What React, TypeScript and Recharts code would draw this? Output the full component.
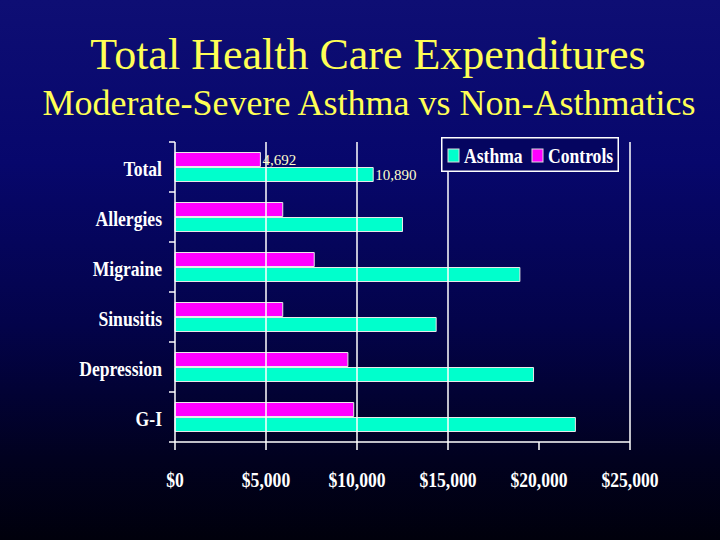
import React from 'react';
import { BarChart, Bar, XAxis, YAxis, Legend, LabelList, ReferenceLine } from 'recharts';

const categories = ['Total', 'Allergies', 'Migraine', 'Sinusitis', 'Depression', 'G-I'];
const asthmaCosts = [10890, 12500, 18950, 14350, 19700, 22000];
const controlCosts = [4692, 5920, 7650, 5920, 9500, 9820];
const xTicks = [0, 5000, 10000, 15000, 20000, 25000];
const gridValues = [5000, 10000, 15000, 25000];
const labeledCategories = ['Total'];
const legendOrder = ['Asthma', 'Controls'];

const data = categories.map((name, i) => ({
  name,
  asthma: asthmaCosts[i],
  controls: controlCosts[i],
}));

const W = 720;
const H = 540;
const MARGIN = { top: 142, right: 90, bottom: 0, left: 0 };
const Y_AXIS_W = 175;
const X_AXIS_H = 98;
const BAND = (H - MARGIN.top - MARGIN.bottom - X_AXIS_H) / categories.length;

const serif = '"Liberation Serif", "Times New Roman", serif';
const SQUEEZE = 'scale(0.8,1)';

const fmtMoney = (v: number) => '$' + v.toLocaleString('en-US');

function YTick(props: any) {
  const { x, y, payload, index, tickSize = 6, tickMargin = 7 } = props;
  const axisX = x + tickMargin + tickSize;
  const last = index === categories.length - 1;
  return (
    <g>
      <line x1={axisX - 6} x2={axisX} y1={y - BAND / 2} y2={y - BAND / 2} stroke="#ffffff" strokeWidth={1.5} />
      {last && (
        <line x1={axisX - 6} x2={axisX} y1={y + BAND / 2} y2={y + BAND / 2} stroke="#ffffff" strokeWidth={1.5} />
      )}
      <text
        transform={`translate(${x},${y + 9}) ${SQUEEZE}`}
        textAnchor="end"
        fill="#ffffff"
        fontFamily={serif}
        fontWeight={700}
        fontSize={22}
      >
        {payload.value}
      </text>
    </g>
  );
}

function XTick(props: any) {
  const { x, y, payload } = props;
  return (
    <text
      transform={`translate(${x},${y + 33}) ${SQUEEZE}`}
      textAnchor="middle"
      fill="#ffffff"
      fontFamily={serif}
      fontWeight={700}
      fontSize={22}
    >
      {fmtMoney(payload.value)}
    </text>
  );
}

function ValueLabel(props: any) {
  const { x, y, width, height, value, index } = props;
  if (!labeledCategories.includes(categories[index])) return null;
  return (
    <text
      x={x + width + 2}
      y={y + height / 2 + 5}
      fill="#ffffcc"
      fontFamily={serif}
      fontSize={15}
      textAnchor="start"
    >
      {Number(value).toLocaleString('en-US')}
    </text>
  );
}

const legendOffsets = [6, 90];

function LegendBox(props: any) {
  const items = [...(props.payload || [])].sort(
    (a: any, b: any) => legendOrder.indexOf(a.value) - legendOrder.indexOf(b.value)
  );
  return (
    <svg width={178} height={35} style={{ display: 'block' }}>
      <rect x={0.75} y={0.75} width={176.5} height={33.5} fill="#050560" stroke="#ffffff" strokeWidth={1.5} />
      {items.map((it: any, i: number) => (
        <g key={it.value}>
          <rect
            x={legendOffsets[i] + 1}
            y={12}
            width={11}
            height={13}
            fill={it.color}
            stroke="#dddddd"
            strokeWidth={1}
          />
          <text
            transform={`translate(${legendOffsets[i] + 17},${26}) ${SQUEEZE}`}
            fill="#ffffff"
            fontFamily={serif}
            fontWeight={700}
            fontSize={22}
          >
            {it.value}
          </text>
        </g>
      ))}
    </svg>
  );
}

export default function App() {
  return (
    <div
      style={{
        position: 'absolute',
        left: 0,
        top: 0,
        width: W,
        height: H,
        background: 'linear-gradient(180deg, #0e0e74 0%, #07076c 30%, #03034a 60%, #01011f 85%, #00000c 100%)',
        overflow: 'hidden',
      }}
    >
      <svg width={W} height={H} style={{ position: 'absolute', left: 0, top: 0, pointerEvents: 'none' }}>
        <text x={368} y={69} textAnchor="middle" fill="#ffff55" fontFamily={serif} fontSize={44}>
          Total Health Care Expenditures
        </text>
        <text x={369} y={115} textAnchor="middle" fill="#ffff55" fontFamily={serif} fontSize={36}>
          Moderate-Severe Asthma vs Non-Asthmatics
        </text>
      </svg>
      <div style={{ position: 'absolute', left: 0, top: 0 }}>
        <BarChart
          width={W}
          height={H}
          data={data}
          layout="vertical"
          margin={MARGIN}
          barCategoryGap="21%"
          barGap={1}
        >
          {gridValues.map((v) => (
            <ReferenceLine key={v} x={v} stroke="#ffffff" strokeWidth={1.5} ifOverflow="extendDomain" />
          ))}
          <XAxis
            type="number"
            domain={[0, 25000]}
            ticks={xTicks}
            interval={0}
            height={X_AXIS_H}
            axisLine={{ stroke: '#ffffff', strokeWidth: 1.5 }}
            tickLine={{ stroke: '#ffffff', strokeWidth: 1.5 }}
            tickSize={8}
            tickMargin={4}
            tick={(p: any) => <XTick {...p} />}
          />
          <XAxis
            xAxisId="top"
            orientation="top"
            type="number"
            domain={[0, 25000]}
            height={0}
            tick={false}
            tickLine={false}
            axisLine={{ stroke: '#ffffff', strokeWidth: 1.5 }}
          />
          <YAxis
            type="category"
            dataKey="name"
            width={Y_AXIS_W}
            axisLine={{ stroke: '#ffffff', strokeWidth: 1.5 }}
            tickLine={false}
            tickSize={6}
            tickMargin={7}
            interval={0}
            tick={(p: any) => <YTick {...p} />}
          />
          <Legend
            layout="horizontal"
            verticalAlign="middle"
            align="center"
            content={(p: any) => <LegendBox {...p} />}
            wrapperStyle={{ position: 'absolute', left: 441, top: 137, width: 178, height: 35 }}
          />
          <Bar dataKey="controls" name="Controls" fill="#ff00ff" stroke="#e8e8e8" strokeWidth={1} isAnimationActive={false}>
            <LabelList dataKey="controls" content={(p: any) => <ValueLabel {...p} />} />
          </Bar>
          <Bar dataKey="asthma" name="Asthma" fill="#00ffcc" stroke="#e8e8e8" strokeWidth={1} isAnimationActive={false}>
            <LabelList dataKey="asthma" content={(p: any) => <ValueLabel {...p} />} />
          </Bar>
        </BarChart>
      </div>
    </div>
  );
}
